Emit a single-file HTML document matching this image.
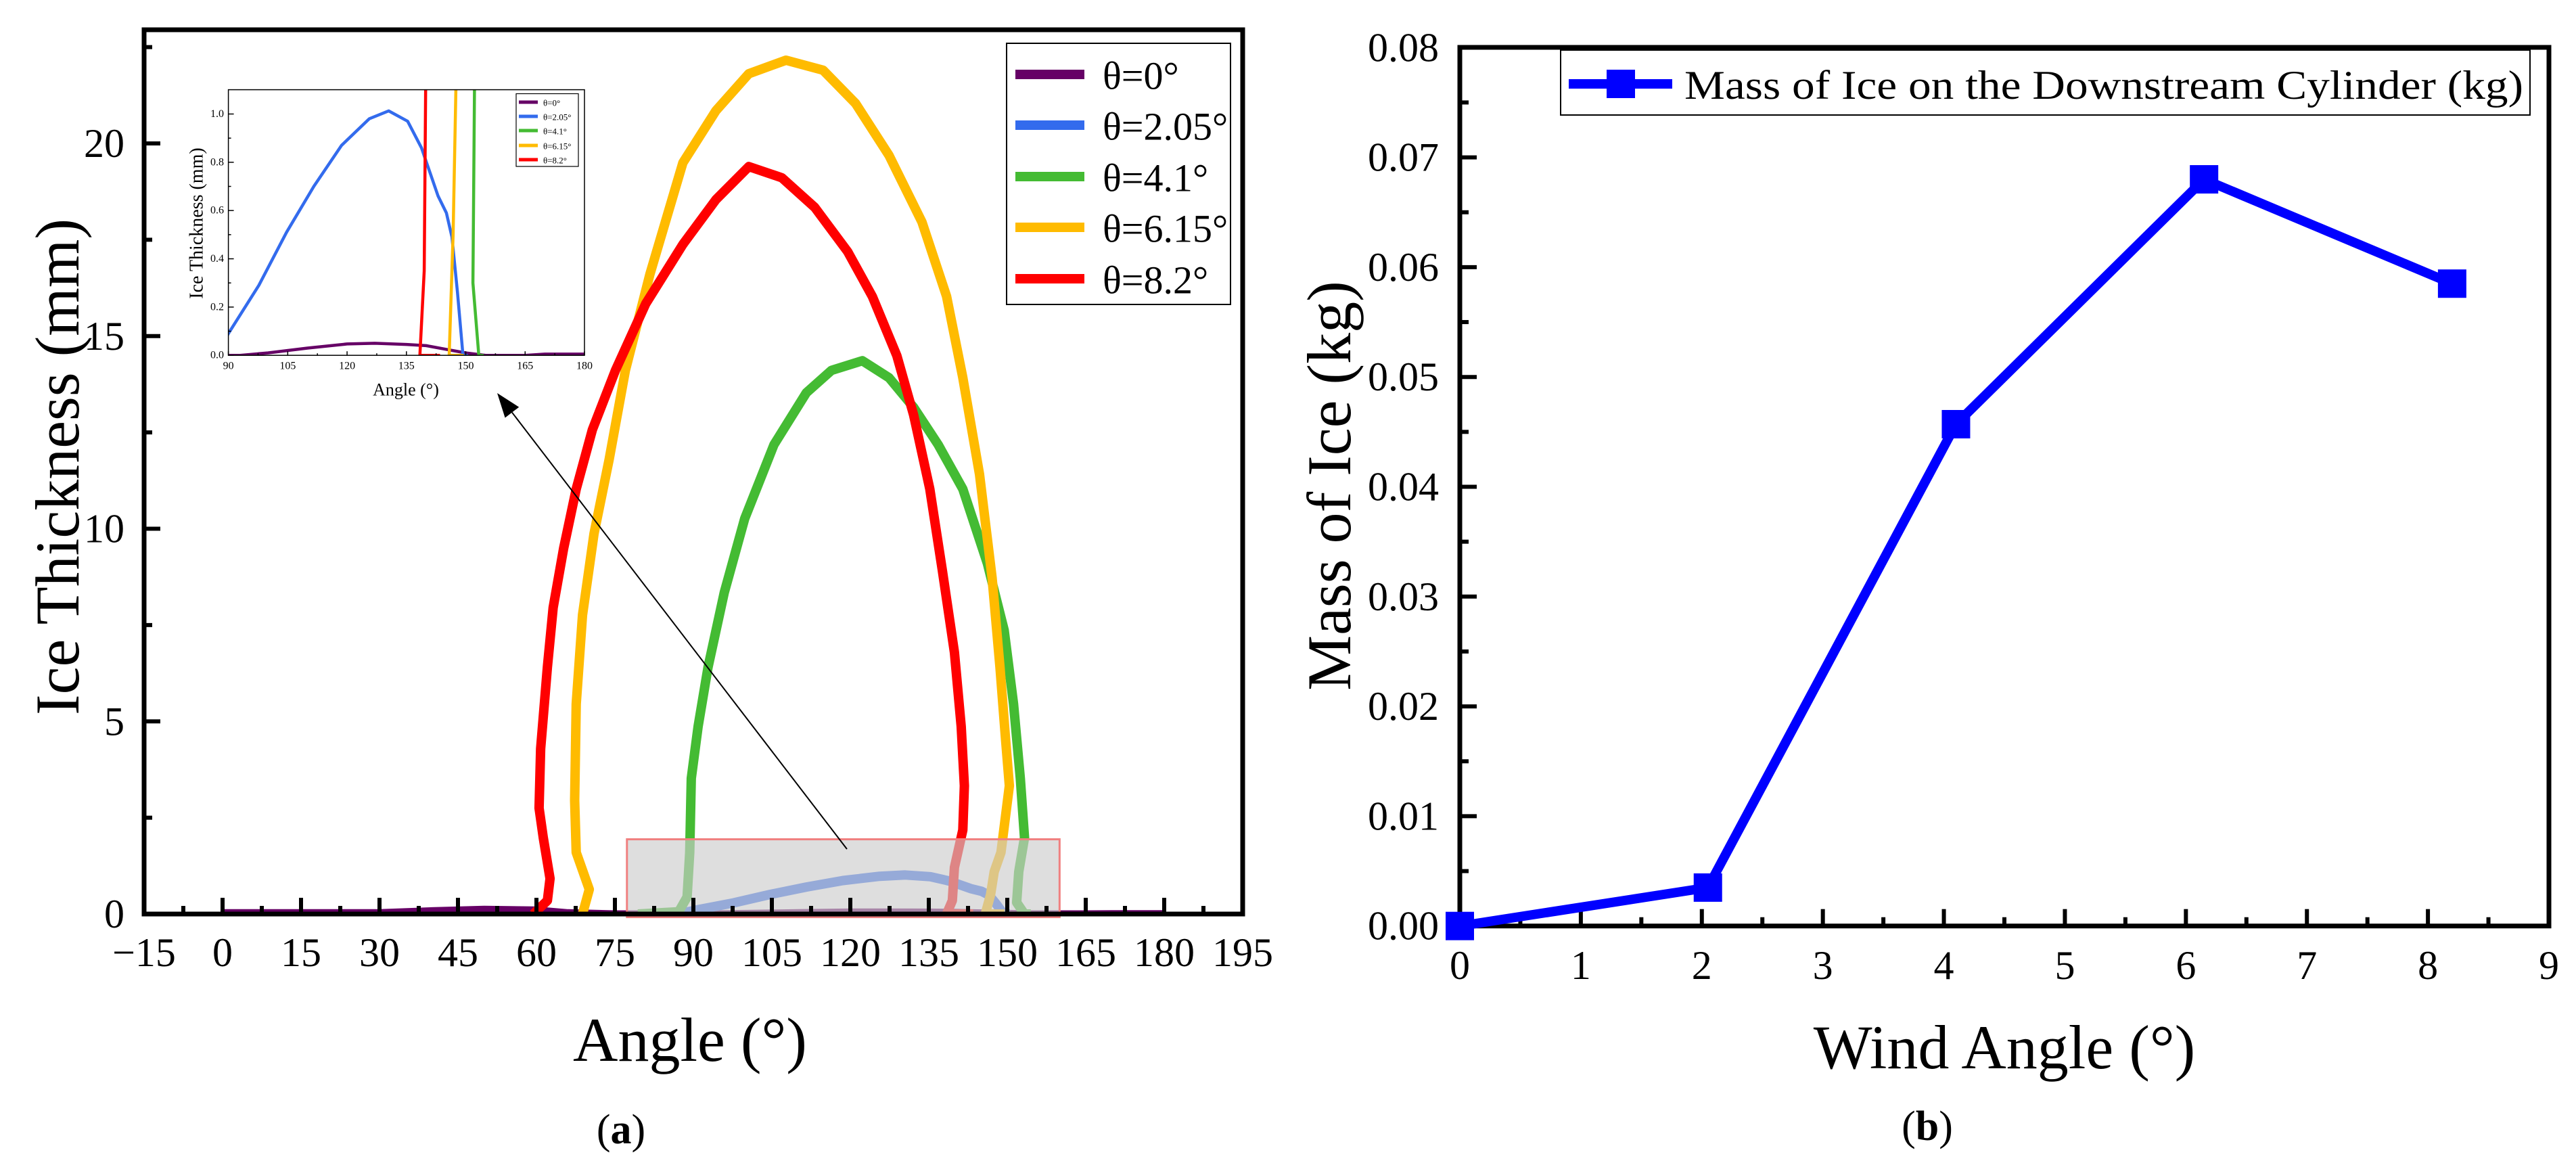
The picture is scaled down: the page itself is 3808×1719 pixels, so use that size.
<!DOCTYPE html>
<html><head><meta charset="utf-8"><style>
html,body{margin:0;padding:0;background:#fff;}
svg{display:block;font-family:"Liberation Serif","Times New Roman",serif;}
</style></head><body>
<svg id="fig" width="3808" height="1719" viewBox="0 0 3808 1719" xmlns="http://www.w3.org/2000/svg">
<defs>
<clipPath id="clipA"><rect x="213" y="44" width="1624" height="1307"/></clipPath>
<clipPath id="clipI"><rect x="337.6" y="132.6" width="526.4" height="392.6"/></clipPath>
</defs>
<g id="panelA"></g>
<g id="panelB"></g>
</svg>
<script>
// ---------- Panel (a) data ----------
const seriesNames = ["θ=0°","θ=2.05°","θ=4.1°","θ=6.15°","θ=8.2°"];
const seriesColors = ["#660066","#336BED","#44BB33","#FFBB00","#FF0000"];
const purpleAngle = [0,30,40,50,60,66,75,93,100,110,120,127,135,140,145,150,155,165,170,180];
const purpleThick = [0.03,0.03,0.08,0.12,0.1,0.03,0,0,0.01,0.03,0.047,0.05,0.045,0.04,0.025,0.01,0,0,0.005,0.005];
const blueAngle = [86.5,88,90,97.7,104.7,111.6,118.6,125.6,130.5,135.3,138.8,143,145.1,146.5,147.9,149.3,150.5];
const blueThick = [0,0.03,0.09,0.29,0.51,0.70,0.87,0.98,1.013,0.97,0.86,0.66,0.59,0.49,0.26,0,0];
const greenAngle = [79.4,87.2,88.8,89.3,89.6,90.9,92.8,95.9,99.8,105.4,111.6,116.4,122.3,127.4,132.1,136.8,141.5,146.2,149.4,151.2,152.5,153.3,152.2,151.8,153.3,154.5];
const greenThick = [0,0.06,0.44,1.6,3.52,4.87,6.41,8.34,10.26,12.18,13.53,14.11,14.36,13.92,13.15,12.18,11.03,9.1,7.37,5.45,3.52,1.98,1.1,0.3,0,0];
const yellowAngle = [68.8,70.1,67.6,67.3,67.6,68.8,71.0,73.9,77.0,81.7,88.0,94.3,100.6,107.7,114.8,121.0,127.4,133.7,138.4,141.5,144.7,147.1,148.6,149.7,150.4,148.8,147.5,146.8,145.8,149.5];
const yellowThick = [0,0.64,1.6,2.95,5.45,7.76,9.87,11.8,14.11,16.61,19.5,20.85,21.81,22.16,21.9,21.04,19.69,17.96,16.03,13.92,11.41,8.72,6.41,4.49,3.33,1.6,1.1,0.5,0,0];
const redAngle = [59.4,62.1,62.6,61.3,60.5,60.8,62.1,63.2,65.2,67.6,70.7,75.1,80.9,88.0,94.3,100.6,106.9,113.2,119.5,124.2,128.9,132.1,135.2,137.6,139.9,141.2,141.8,141.5,139.9,139.5,138.4,143.5];
const redThick = [0,0.35,0.92,1.98,2.75,4.29,6.41,7.95,9.49,11.03,12.57,14.11,15.84,17.38,18.54,19.40,19.11,18.34,17.19,16.03,14.49,12.95,11.03,8.91,6.79,4.87,3.33,2.18,1.21,0.35,0,0];
const xTicksA = [-15,0,15,30,45,60,75,90,105,120,135,150,165,180,195];
const yTicksA = [0,5,10,15,20];
const xTicksI = [90,105,120,135,150,165,180];
const yTicksI = ["0.0","0.2","0.4","0.6","0.8","1.0"];
// ---------- Panel (b) data ----------
const windAngle = [0,2.05,4.1,6.15,8.2];
const iceMass = [0,0.0035,0.0457,0.068,0.0585];
const xTicksB = [0,1,2,3,4,5,6,7,8,9];
const yTicksB = ["0.00","0.01","0.02","0.03","0.04","0.05","0.06","0.07","0.08"];

const NS="http://www.w3.org/2000/svg";
function mk(tag, attrs, parent){const e=document.createElementNS(NS,tag);for(const k in attrs)e.setAttribute(k,attrs[k]);if(parent)parent.appendChild(e);return e;}
function txt(parent,x,y,s,size,anchor,extra){const t=mk('text',Object.assign({x:x,y:y,'font-size':size,'text-anchor':anchor||'middle','dominant-baseline':'central',fill:'#000'},extra||{}),parent);t.textContent=s;return t;}

// ===== Panel A =====
const A=document.getElementById('panelA');
const ax=v=>213+(v+15)*(1837-213)/210;
const ay=v=>1351-v*56.95;
const allX=[purpleAngle,blueAngle,greenAngle,yellowAngle,redAngle];
const allY=[purpleThick,blueThick,greenThick,yellowThick,redThick];

const curvesA=mk('g',{'clip-path':'url(#clipA)'},A);


for(let s=0;s<5;s++){
  const pts=allX[s].map((v,i)=>ax(v).toFixed(1)+','+ay(allY[s][i]).toFixed(1)).join(' ');
  const pl=mk('polyline',{points:pts,fill:'none',stroke:seriesColors[s],'stroke-width':s===0?11:14,'stroke-linejoin':'round','stroke-linecap':'butt'},curvesA);
  
  
}
const hr=mk('rect',{x:ax(77.3),y:ay(1.94),width:ax(160)-ax(77.3),height:ay(-0.08)-ay(1.94),fill:'rgba(205,205,205,0.65)',stroke:'#F08080','stroke-width':3},A);


const fa=mk('rect',{x:213,y:44,width:1624,height:1307,fill:'none',stroke:'#000','stroke-width':7},A);


for(let v=-15;v<=195;v+=7.5){const maj=Math.abs((v+15)%15)<0.01;mk('line',{x1:ax(v),x2:ax(v),y1:1351,y2:1351-(maj?24:12),stroke:'#000','stroke-width':6},A);}
for(let v=0;v<=22.5;v+=2.5){const maj=(v%5)===0;mk('line',{x1:213,x2:213+(maj?24:12),y1:ay(v),y2:ay(v),stroke:'#000','stroke-width':6},A);}
xTicksA.forEach(v=>{const t=txt(A,ax(v),1408,(v<0?'\u2212'+(-v):String(v)),60);});
yTicksA.forEach(v=>{const t=txt(A,184,ay(v),String(v),60,'end');});
let t1=txt(A,1020,1537,'Angle (°)',92);
let t2=txt(A,85,690,'Ice Thickness (mm)',92,'middle',{transform:'rotate(-90 85 690)'});
let t3=mk('text',{x:918,y:1690,'font-size':62,'text-anchor':'middle'},A);t3.innerHTML='(<tspan font-weight="bold">a</tspan>)';
const lg=mk('g',{},A);
mk('rect',{x:1488,y:64,width:331,height:386,fill:'#fff',stroke:'#000','stroke-width':2},lg);
const legY=[110,185,261,336,412];
for(let s=0;s<5;s++){
  const e=mk('g',{},lg);
  mk('line',{x1:1501,x2:1603,y1:legY[s],y2:legY[s],stroke:seriesColors[s],'stroke-width':14},e);
  txt(e,1630,legY[s]+2,seriesNames[s],58,'start');
}
// inset
const I=mk('g',{},A);
const ix=v=>337.6+(v-90)*(864-337.6)/90;
const iy=v=>525.2-v*356.7;
const cI=mk('g',{'clip-path':'url(#clipI)'},I);
for(let s=0;s<5;s++){
  const pts=allX[s].map((v,i)=>ix(v).toFixed(1)+','+iy(allY[s][i]).toFixed(1)).join(' ');
  const pl=mk('polyline',{points:pts,fill:'none',stroke:seriesColors[s],'stroke-width':4.5,'stroke-linejoin':'round'},cI);
  
  
}
mk('rect',{x:337.6,y:132.6,width:526.4,height:392.6,fill:'none',stroke:'#000','stroke-width':1.5},I);
for(let v=90;v<=180;v+=7.5){const maj=((v-90)%15)===0;mk('line',{x1:ix(v),x2:ix(v),y1:525.2,y2:525.2-(maj?6:3),stroke:'#000','stroke-width':1.5},I);}
for(let v=0;v<=1.05;v+=0.1){const maj=Math.round(v*10)%2===0;mk('line',{x1:337.6,x2:337.6+(maj?8:4),y1:iy(v),y2:iy(v),stroke:'#000','stroke-width':1.5},I);}
xTicksI.forEach(v=>txt(I,ix(v),541,String(v),16));
yTicksI.forEach(v=>txt(I,331,iy(parseFloat(v)),v,16,'end'));
txt(I,600,576,'Angle (°)',26);
txt(I,291,330,'Ice Thickness (mm)',28,'middle',{transform:'rotate(-90 291 330)'});
mk('rect',{x:763,y:138.5,width:92,height:107.5,fill:'#fff',stroke:'#000','stroke-width':1.2},I);
const iLegY=[151,172,193,215,236];
for(let s=0;s<5;s++){mk('line',{x1:767,x2:795,y1:iLegY[s],y2:iLegY[s],stroke:seriesColors[s],'stroke-width':5},I);txt(I,803,iLegY[s]+1,seriesNames[s],13,'start');}
// arrow
const ar=mk('g',{},A);
{const tx=735,ty=581,ex=1252,ey=1255;const ang=Math.atan2(ey-ty,ex-tx);const L=36,W=13;
 const bx=tx+L*Math.cos(ang),by=ty+L*Math.sin(ang);
 mk('line',{x1:ex,y1:ey,x2:bx,y2:by,stroke:'#000','stroke-width':2},ar);
 const p=[tx,ty,bx-W*Math.sin(ang),by+W*Math.cos(ang),bx+W*Math.sin(ang),by-W*Math.cos(ang)];
 mk('polygon',{points:p.map(v=>v.toFixed(1)).join(' '),fill:'#000'},ar);}

// ===== Panel B =====
const B=document.getElementById('panelB');
const bxs=v=>2158+v*(3768-2158)/9;
const bys=v=>1368.7-v*16230;
const fb=mk('rect',{x:2158,y:70,width:1610,height:1298.7,fill:'none',stroke:'#000','stroke-width':7},B);


for(let v=0;v<=9;v+=0.5){const maj=(v%1)===0;mk('line',{x1:bxs(v),x2:bxs(v),y1:1368.7,y2:1368.7-(maj?25:13),stroke:'#000','stroke-width':6},B);}
for(let k=0;k<=16;k++){const v=k*0.005;const maj=k%2===0;mk('line',{x1:2158,x2:2158+(maj?25:13),y1:bys(v),y2:bys(v),stroke:'#000','stroke-width':6},B);}
xTicksB.forEach(v=>{const t=txt(B,bxs(v),1427,String(v),60);});
yTicksB.forEach(v=>{const t=txt(B,2127,bys(parseFloat(v)),v,60,'end');});
const lineB=mk('polyline',{points:windAngle.map((v,i)=>bxs(v).toFixed(1)+','+bys(iceMass[i]).toFixed(1)).join(' '),fill:'none',stroke:'#0000FF','stroke-width':14,'stroke-linejoin':'miter'},B);


windAngle.forEach((v,i)=>{
  const m=mk('rect',{x:bxs(v)-21,y:bys(iceMass[i])-21,width:42,height:42,fill:'#0000FF'},B);
  
  
});
const lgb=mk('g',{},B);
mk('rect',{x:2307,y:74,width:1433,height:96,fill:'#fff',stroke:'#000','stroke-width':2},lgb);
mk('line',{x1:2319,x2:2472,y1:124,y2:124,stroke:'#0000FF','stroke-width':14},lgb);
mk('rect',{x:2375,y:103,width:42,height:42,fill:'#0000FF'},lgb);
txt(lgb,2490,126,'Mass of Ice on the Downstream Cylinder (kg)',60,'start',{textLength:1240,lengthAdjust:'spacingAndGlyphs'});
let b1=txt(B,2963,1548,'Wind Angle (°)',92);
let b2=txt(B,1965,718,'Mass of Ice (kg)',92,'middle',{transform:'rotate(-90 1965 718)'});
let b3=mk('text',{x:2849,y:1685,'font-size':62,'text-anchor':'middle'},B);b3.innerHTML='(<tspan font-weight="bold">b</tspan>)';
</script>
</body></html>
